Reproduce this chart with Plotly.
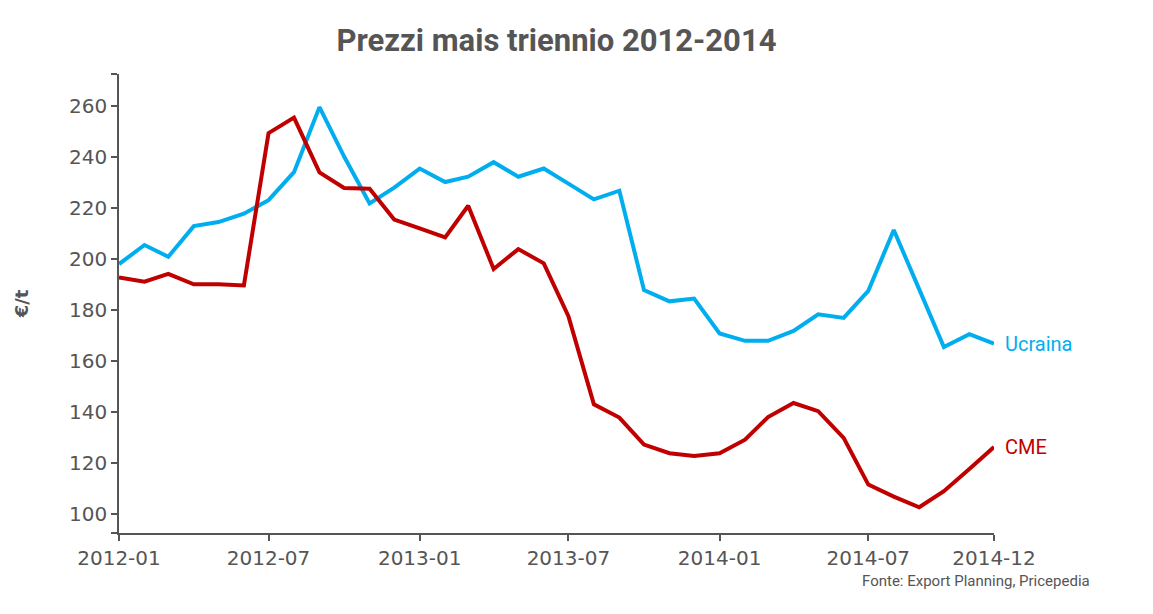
import plotly.graph_objects as go

months = ["2012-01-01", "2012-02-01", "2012-03-01", "2012-04-01", "2012-05-01", "2012-06-01",
          "2012-07-01", "2012-08-01", "2012-09-01", "2012-10-01", "2012-11-01", "2012-12-01",
          "2013-01-01", "2013-02-01", "2013-03-01", "2013-04-01", "2013-05-01", "2013-06-01",
          "2013-07-01", "2013-08-01", "2013-09-01", "2013-10-01", "2013-11-01", "2013-12-01",
          "2014-01-01", "2014-02-01", "2014-03-01", "2014-04-01", "2014-05-01", "2014-06-01",
          "2014-07-01", "2014-08-01", "2014-09-01", "2014-10-01", "2014-11-01", "2014-12-01"]

ucraina = [197.9, 205.4, 200.8, 212.8, 214.4, 217.7, 223.0, 234.0, 259.5, 240.1, 221.7, 227.9,
           235.4, 230.1, 232.2, 237.9, 232.2, 235.4, 229.5, 223.3, 226.7, 187.7, 183.3, 184.4,
           170.7, 167.8, 167.8, 171.7, 178.2, 176.8, 187.4, 211.3, 188.0, 165.4, 170.4, 166.7]

cme = [192.7, 191.0, 194.1, 190.0, 190.0, 189.5, 249.3, 255.4, 233.9, 227.8, 227.5, 215.4,
       211.9, 208.4, 220.8, 196.0, 203.8, 198.2, 177.5, 142.9, 137.7, 127.1, 123.7, 122.6,
       123.7, 129.0, 137.9, 143.4, 140.2, 129.7, 111.4, 106.7, 102.5, 108.8, 117.5, 126.1]

series_names = ["Ucraina", "CME"]
series_colors = ["#00aeef", "#c00000"]

x_tickvals = ["2012-01-01", "2012-07-01", "2013-01-01", "2013-07-01", "2014-01-01", "2014-07-01", "2014-12-01"]
x_ticktext = ["2012-01", "2012-07", "2013-01", "2013-07", "2014-01", "2014-07", "2014-12"]

y_range = [92.4, 272.5]
y_tickvals = [100, 120, 140, 160, 180, 200, 220, 240, 260]

title_text = "Prezzi mais triennio 2012-2014"
y_title = "€/t"
source_text = "Fonte: Export Planning, Pricepedia"

grey = "#555555"

W, H = 1153, 614
ML, MR, MT, MB = 104, 167, 66, 89

fig = go.Figure()
for name, vals, col in zip(series_names, [ucraina, cme], series_colors):
    fig.add_trace(go.Scatter(x=months, y=vals, mode="lines", name=name,
                             line=dict(color=col, width=4), showlegend=False))
    fig.add_annotation(x=months[-1], y=vals[-1], text=name, showarrow=False,
                       xanchor="left", yanchor="middle", xshift=9,
                       font=dict(family="Roboto", size=20, color=col))

# outer ticks at the ends of the y axis (no labels)
yt = [y_range[0]] + y_tickvals + [y_range[1]]
ytt = [""] + [str(v) for v in y_tickvals] + [""]

fig.update_layout(
    width=W, height=H,
    margin=dict(l=ML, r=MR, t=MT, b=MB),
    plot_bgcolor="white", paper_bgcolor="white",
    title=dict(text=title_text, x=0.5, xref="paper", xanchor="center",
               y=1 - 32 / H, yref="container", yanchor="middle",
               font=dict(family="Roboto", size=31, color=grey, weight="bold")),
    xaxis=dict(type="date", range=[months[0], months[-1]],
               tickvals=x_tickvals, ticktext=x_ticktext,
               showgrid=False, zeroline=False,
               showline=True, linecolor=grey, linewidth=1.5,
               ticks="outside", ticklen=6, tickcolor=grey, tickwidth=1.5,
               tickfont=dict(family="DejaVu Sans", size=20, color=grey)),
    yaxis=dict(range=y_range, tickvals=yt, ticktext=ytt,
               showgrid=False, zeroline=False,
               showline=True, linecolor=grey, linewidth=1.5,
               ticks="outside", ticklen=6, tickcolor=grey, tickwidth=1.5,
               tickfont=dict(family="DejaVu Sans", size=20, color=grey),
               title=dict(text=y_title, standoff=36,
                          font=dict(family="DejaVu Sans", size=18, color=grey, weight="bold"))),
)

pw = W - ML - MR
ph = H - MT - MB
fig.add_annotation(x=(1085 - ML) / pw, y=(H - MB - 573) / ph, xref="paper", yref="paper",
                   text=source_text, showarrow=False, xanchor="right", yanchor="middle",
                   font=dict(family="Roboto", size=15, color=grey))

fig.write_html("out.html")
